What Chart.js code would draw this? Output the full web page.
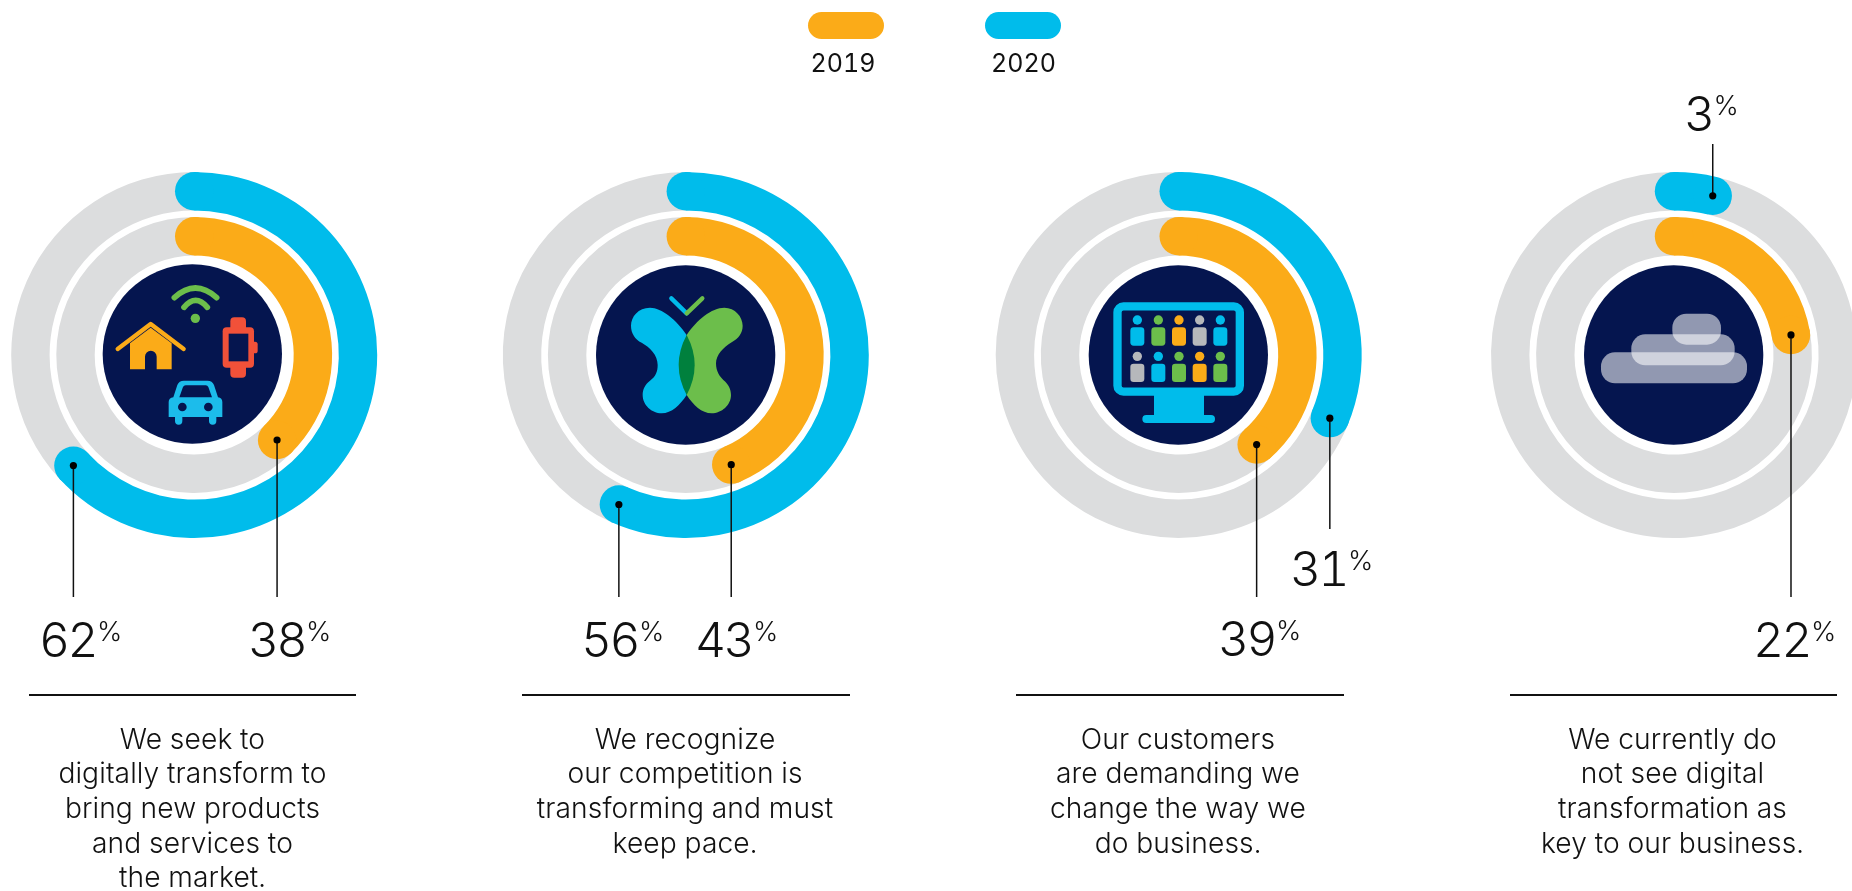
<!DOCTYPE html>
<html>
<head>
<meta charset="utf-8">
<title>Digital transformation 2019 vs 2020</title>
<script src="https://cdn.jsdelivr.net/npm/chart.js@4"></script>
<style>
  html, body { margin: 0; padding: 0; background: #fff; overflow: hidden; }
  #page { position: relative; width: 1852px; height: 891px; overflow: hidden; font-family: Inter, sans-serif; color: #111; font-variant-numeric: tabular-nums; }
  #page canvas, #icons { position: absolute; left: 0; top: 0; }
  .pill { position: absolute; top: 12px; width: 76px; height: 27px; border-radius: 14px; }
  .year { position: absolute; top: 46px; width: 100px; text-align: center; font-size: 25px; line-height: 34px; }
  .rule { position: absolute; top: 694px; height: 2.300px; background: #111; }
  .caption { position: absolute; top: 721.500px; width: 400px; text-align: center; font-size: 28.2px; font-weight: 300; line-height: 34.7px; white-space: pre; letter-spacing: .1px; }
  .pct { position: absolute; font-size: 48px; font-weight: 300; line-height: 60px; letter-spacing: -2.5px; white-space: pre; }
  .pct span { font-size: 27px; letter-spacing: 0; position: relative; top: -16px; margin-left: 1px; }
</style>
</head>
<body>
<div id="page">
  <svg id="icons" width="1852" height="891" xmlns="http://www.w3.org/2000/svg">
    <!-- home / wifi / watch / car -->
    <g transform="translate(0,150) scale(.33333)">
      <circle cx="577" cy="612" r="269" fill="#05154f"/>
      <g fill="none" stroke="#6cbe4b" stroke-width="17" stroke-linecap="round">
        <path d="M523 443Q586 385 650 443"/><path d="M552 472Q587 430 622 472"/>
      </g>
      <circle cx="586" cy="505" r="14" fill="#6cbe4b"/>
      <path d="M353 597L452 522L551 597" fill="none" stroke="#fbab18" stroke-width="13" stroke-linecap="round" stroke-linejoin="round"/>
      <path d="M390 580L452 533L515 580V658H470V620a17.500 17.500 0 0 0 -35 0V658H390Z" fill="#fbab18"/>
      <rect x="691" y="502" width="47" height="181" rx="12" fill="#f15139"/>
      <rect x="750" y="575" width="23" height="35" rx="8" fill="#f15139"/>
      <rect x="668" y="532" width="94" height="121" rx="12" fill="#f15139"/>
      <rect x="686" y="551" width="59" height="83" fill="#05154f"/>
      <rect x="525" y="785" width="22" height="39" rx="11" fill="#1cbceb"/>
      <rect x="627" y="785" width="22" height="39" rx="11" fill="#1cbceb"/>
      <path d="M506 756Q506 744 520 742L532 705Q537 692 552 692H622Q637 692 642 705L654 742Q667 744 667 756V801H506Z" fill="#1cbceb"/>
      <path d="M538 742L549 711Q551 706 557 706H617Q623 706 625 711L636 742Z" fill="#05154f"/>
      <circle cx="547" cy="771" r="13" fill="#05154f"/><circle cx="625" cy="771" r="13" fill="#05154f"/>
    </g>
    <!-- butterfly -->
    <g transform="translate(490,150) scale(.33333)">
      <circle cx="587" cy="615" r="269" fill="#05154f"/>
      <path d="M544 445L590 490" stroke="#00bceb" stroke-width="13" stroke-linecap="round"/>
      <path d="M590 490L637 445" stroke="#6cbe4b" stroke-width="13" stroke-linecap="round"/>
      <path d="M590 555C560 510 515 473 480 473C445 473 423 500 423 527C423 550 435 568 455 578C480 592 503 615 503 645C503 665 497 680 480 692C465 703 458 718 458 735C458 765 485 790 515 790C545 790 570 765 590 735Z" fill="#00bceb"/>
      <path d="M590 555C620 510 665 473 703 473C735 473 758 500 758 527C758 550 745 565 725 577C700 592 678 615 678 640C678 665 690 680 700 690C715 702 723 718 723 735C723 765 695 790 665 790C635 790 610 765 590 735Z" fill="#6cbe4b"/>
      <path d="M590 555Q542 645 590 735Q638 645 590 555Z" fill="#00803d"/>
    </g>
    <!-- monitor with people -->
    <g id="monitor" transform="translate(980,150) scale(.33333)">
      <circle cx="595" cy="615" r="269" fill="#05154f"/>
      <rect x="522" y="730" width="150" height="70" fill="#00bceb"/>
      <rect x="487" y="795" width="218" height="24" rx="12" fill="#00bceb"/>
      <rect x="412.500" y="469" width="367" height="256" rx="18" fill="none" stroke="#00bceb" stroke-width="25"/>
    </g>
    <!-- cloud -->
    <g transform="translate(1452,80) scale(.33333)">
      <circle cx="665" cy="825" r="269" fill="#05154f"/>
      <g fill="#fff" fill-opacity=".56">
        <rect x="447" y="817" width="438" height="93" rx="42"/>
        <rect x="538" y="763" width="310" height="93" rx="42"/>
        <rect x="661" y="701" width="146" height="93" rx="42"/>
      </g>
    </g>
  </svg>
  <canvas id="c0" width="1900" height="891"></canvas>
  <canvas id="c1" width="1900" height="891"></canvas>
  <canvas id="c2" width="1900" height="891"></canvas>
  <canvas id="c3" width="1900" height="891"></canvas>
</div>
<script>
var years = ['2019', '2020'];
var captions = [
  'We seek to\ndigitally transform to\nbring new products\nand services to\nthe market.',
  'We recognize\nour competition is\ntransforming and must\nkeep pace.',
  'Our customers\nare demanding we\nchange the way we\ndo business.',
  'We currently do\nnot see digital\ntransformation as\nkey to our business.'
];
// printed percentages
var printed2019 = [38, 43, 39, 22];
var printed2020 = [62, 56, 31, 3];
// how far each arc really sweeps in the picture, in percent of the ring
var sweep2019 = [37.7, 43.75, 38.6, 22.3];
var sweep2020 = [63.2, 56.7, 31.3, 3.8];

var ORANGE = '#fbab18', CYAN = '#00bceb', GREY = '#dcddde', INK = '#111';

// layout only
var CANVAS_W = 1900;
var centerX = [194.2, 685.8, 1178.7, 1674];
var captionX = [192.5, 685, 1178, 1672.5];
var ruleX = [[29, 356], [522.4, 850], [1016, 1344], [1509.7, 1837.3]];
var labelX2019 = [248, 695, 1218, 1753];
var labelY2019 = [657, 657, 656, 657];
var lineEnd2019 = [597, 597, 597, 597];
var labelX2020 = [39, 581, 1290, 1684];
var labelY2020 = [657, 657, 586, 131];
var lineEnd2020 = [597, 597, 529, 144];

function drawCap(ctx, arc, angle, color) {
  var mid = (arc.innerRadius + arc.outerRadius) / 2;
  var r = (arc.outerRadius - arc.innerRadius) / 2;
  ctx.fillStyle = color;
  ctx.beginPath();
  ctx.arc(arc.x + Math.cos(angle) * mid, arc.y + Math.sin(angle) * mid, r, 0, Math.PI * 2);
  ctx.fill();
}

function drawLeader(ctx, arc, lineEnd) {
  var mid = (arc.innerRadius + arc.outerRadius) / 2;
  var px = arc.x + Math.cos(arc.endAngle) * mid;
  var py = arc.y + Math.sin(arc.endAngle) * mid;
  ctx.strokeStyle = INK;
  ctx.lineWidth = 1.5;
  ctx.beginPath();
  ctx.moveTo(px, py);
  ctx.lineTo(px, lineEnd);
  ctx.stroke();
  ctx.fillStyle = '#000';
  ctx.beginPath();
  ctx.arc(px, py, 3.6, 0, Math.PI * 2);
  ctx.fill();
}

// round ends and leader lines, placed from the arc elements
var ringExtras = {
  id: 'ringExtras',
  afterDatasetsDraw: function(chart) {
    var ctx = chart.ctx;
    var i = chart.options.plugins.ringExtras.index;
    var outer = chart.getDatasetMeta(0).data[0].getProps(['x', 'y', 'startAngle', 'endAngle', 'innerRadius', 'outerRadius'], true);
    var inner = chart.getDatasetMeta(2).data[0].getProps(['x', 'y', 'startAngle', 'endAngle', 'innerRadius', 'outerRadius'], true);
    ctx.save();
    drawCap(ctx, outer, outer.startAngle, CYAN);
    drawCap(ctx, outer, outer.endAngle, CYAN);
    drawCap(ctx, inner, inner.startAngle, ORANGE);
    drawCap(ctx, inner, inner.endAngle, ORANGE);
    drawLeader(ctx, outer, lineEnd2020[i]);
    drawLeader(ctx, inner, lineEnd2019[i]);
    ctx.restore();
  }
};

function printRing(i) {
  var cx = centerX[i];
  new Chart(document.getElementById('c' + i), {
    type: 'doughnut',
    data: {
      datasets: [{
        label: years[1],
        data: [sweep2020[i], 100 - sweep2020[i]],
        backgroundColor: [CYAN, GREY],
        weight: 38.4
      }, {
        // white gap between the two rings
        data: [100],
        backgroundColor: ['rgba(0,0,0,0)'],
        weight: 6.7
      }, {
        label: years[0],
        data: [sweep2019[i], 100 - sweep2019[i]],
        backgroundColor: [ORANGE, GREY],
        weight: 38.4
      }]
    },
    options: {
      responsive: false,
      animation: false,
      cutout: 99.5,
      borderWidth: 0,
      elements: { arc: { borderWidth: 0 } },
      layout: { padding: { left: cx - 183, right: CANVAS_W - cx - 183, top: 172, bottom: 353 } },
      plugins: {
        legend: { display: false },
        tooltip: { enabled: false },
        ringExtras: { index: i }
      }
    },
    plugins: [ringExtras]
  });
}

function addDiv(cls, css, text) {
  var d = document.createElement('div');
  d.className = cls;
  d.style.cssText = css;
  if (text) d.textContent = text;
  document.getElementById('page').appendChild(d);
  return d;
}

function addPercent(value, x, baseline) {
  var d = addDiv('pct', 'left:' + x + 'px;top:' + (baseline - 47.5) + 'px', String(value));
  var sign = document.createElement('span');
  sign.textContent = '%';
  d.appendChild(sign);
}

function printLegend() {
  addDiv('pill', 'left:808px;background:' + ORANGE);
  addDiv('pill', 'left:985px;background:' + CYAN);
  addDiv('year', 'left:793px', years[0]);
  addDiv('year', 'left:973.500px', years[1]);
}

function printCaptions() {
  captions.forEach(function(text, i) {
    addDiv('rule', 'left:' + ruleX[i][0] + 'px;width:' + (ruleX[i][1] - ruleX[i][0]) + 'px');
    addDiv('caption', 'left:' + (captionX[i] - 200) + 'px', text);
    addPercent(printed2020[i], labelX2020[i], labelY2020[i]);
    addPercent(printed2019[i], labelX2019[i], labelY2019[i]);
  });
}

function printPeople() {
  var g = document.getElementById('monitor');
  var cols = [472, 535, 597, 659, 721];
  var row1 = [CYAN, '#6cbe4b', ORANGE, '#b6b8bb', CYAN];
  var row2 = ['#b6b8bb', CYAN, '#6cbe4b', ORANGE, '#6cbe4b'];
  var ns = 'http://www.w3.org/2000/svg';
  [[510, 532, row1], [619, 641, row2]].forEach(function(row) {
    cols.forEach(function(x, j) {
      var head = document.createElementNS(ns, 'circle');
      head.setAttribute('cx', x); head.setAttribute('cy', row[0]); head.setAttribute('r', 14);
      head.setAttribute('fill', row[2][j]);
      g.appendChild(head);
      var body = document.createElementNS(ns, 'rect');
      body.setAttribute('x', x - 21); body.setAttribute('y', row[1]);
      body.setAttribute('width', 42); body.setAttribute('height', 55); body.setAttribute('rx', 10);
      body.setAttribute('fill', row[2][j]);
      g.appendChild(body);
    });
  });
}

function init() {
  printPeople();
  printLegend();
  printCaptions();
  for (var i = 0; i < 4; i++) printRing(i);
}

init();
</script>
</body>
</html>
